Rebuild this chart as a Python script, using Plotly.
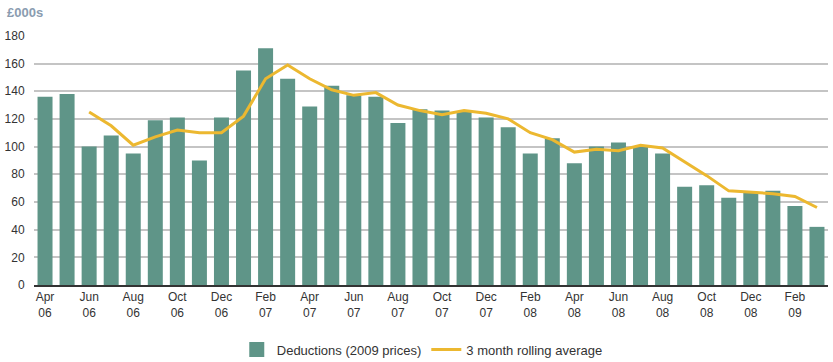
import plotly.graph_objects as go

months = ["Apr 06","May 06","Jun 06","Jul 06","Aug 06","Sep 06","Oct 06","Nov 06","Dec 06",
          "Jan 07","Feb 07","Mar 07","Apr 07","May 07","Jun 07","Jul 07","Aug 07","Sep 07",
          "Oct 07","Nov 07","Dec 07","Jan 08","Feb 08","Mar 08","Apr 08","May 08","Jun 08",
          "Jul 08","Aug 08","Sep 08","Oct 08","Nov 08","Dec 08","Jan 09","Feb 09","Mar 09"]
deductions = [136, 138, 100, 108, 95, 119, 121, 90, 121,
              155, 171, 149, 129, 144, 137, 136, 117, 127,
              126, 125, 121, 114, 95, 106, 88, 100, 103,
              100, 95, 71, 72, 63, 67, 68, 57, 42]
rolling = [None, None, 125, 115, 101, 107, 112, 110, 110,
           122, 149, 159, 149, 141, 137, 139, 130, 126,
           123, 126, 124, 120, 110, 105, 96, 98, 97,
           101, 99, 89, 79, 68, 67, 66, 64, 56]
tick_labels = ["Apr<br>06","Jun<br>06","Aug<br>06","Oct<br>06","Dec<br>06","Feb<br>07",
               "Apr<br>07","Jun<br>07","Aug<br>07","Oct<br>07","Dec<br>07","Feb<br>08",
               "Apr<br>08","Jun<br>08","Aug<br>08","Oct<br>08","Dec<br>08","Feb<br>09"]
y_ticks = [0, 20, 40, 60, 80, 100, 120, 140, 160, 180]

BAR_COLOR = "#5f9588"
LINE_COLOR = "#ecb830"

x_idx = list(range(len(months)))

fig = go.Figure()
fig.add_trace(go.Bar(x=x_idx, y=deductions, name="Deductions (2009 prices)",
                     marker_color=BAR_COLOR, marker_line_width=0,
                     hovertext=months, showlegend=False))
# legend entry with a larger square swatch
fig.add_trace(go.Scatter(x=[None], y=[None], name="Deductions (2009 prices)",
                         mode="markers",
                         marker=dict(symbol="square", size=15, color=BAR_COLOR)))
fig.add_trace(go.Scatter(x=x_idx, y=rolling, name="3 month rolling average",
                         mode="lines", line=dict(color=LINE_COLOR, width=3),
                         connectgaps=False, hovertext=months))

fig.update_layout(
    width=833, height=362,
    margin=dict(l=34, r=5, t=35, b=77, autoexpand=False),
    paper_bgcolor="white", plot_bgcolor="white",
    bargap=0.32,
    font=dict(family="Liberation Sans, Arial, sans-serif", size=12, color="#333333"),
    showlegend=True,
    legend=dict(orientation="h", x=0.489, xanchor="center", y=-0.258, yanchor="middle",
                font=dict(size=13, color="#333333"), traceorder="normal",
                itemwidth=30),
    xaxis=dict(range=[-0.5, 35.5], tickmode="array", automargin=False,
               tickvals=x_idx[::2], ticktext=tick_labels,
               showgrid=False, showline=True, linecolor="#333333", linewidth=1.5,
               ticks="", tickfont=dict(size=12)),
    yaxis=dict(range=[0, 180.6], tickmode="array", tickvals=y_ticks, automargin=False,
               showgrid=True, gridcolor="#c4c4c4", gridwidth=1.5,
               zeroline=False, showline=False,
               ticks="outside", ticklen=6, tickcolor="white",
               tickfont=dict(size=12)),
    annotations=[dict(text="<b>£000s</b>", xref="paper", yref="paper",
                      x=-0.037, y=1.09, xanchor="left", yanchor="middle",
                      showarrow=False, font=dict(size=13, color="#8a9cb0"))],
)

fig.write_html("out.html", config={"displayModeBar": False},
               post_script="document.body.style.margin='0';document.body.style.overflow='hidden';")
